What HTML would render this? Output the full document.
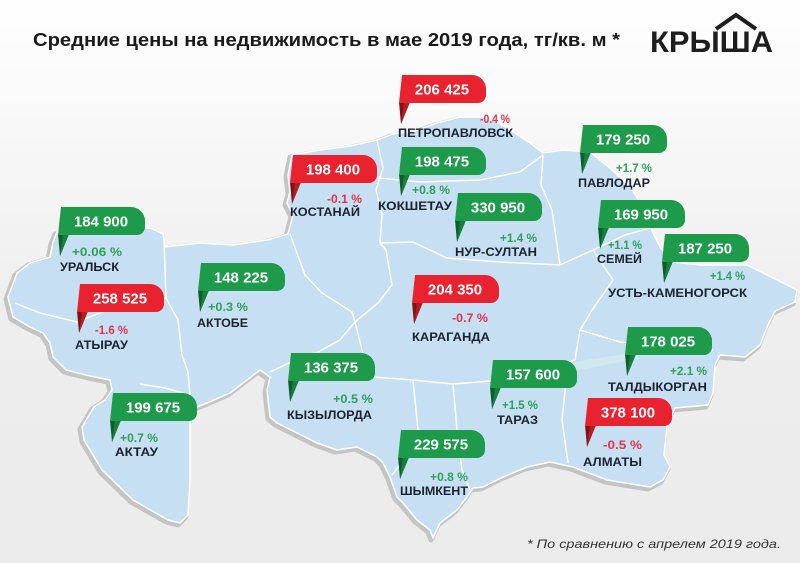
<!DOCTYPE html>
<html><head><meta charset="utf-8"><style>
html,body{margin:0;padding:0;background:#f3f3f3;}
svg{display:block;}
text{font-family:"Liberation Sans","DejaVu Sans",sans-serif;}
.pr{font-size:15px;font-weight:bold;fill:#fff;text-anchor:middle;}
.ct{font-size:12px;font-weight:bold;fill:#1c2230;}
.pg{font-size:11.5px;font-weight:bold;fill:#2ea05a;}
.pn{font-size:11.5px;font-weight:bold;fill:#e5334a;}
</style></head><body>
<svg width="800" height="563" viewBox="0 0 800 563" xmlns="http://www.w3.org/2000/svg">
<defs>
<linearGradient id="bg" x1="0" y1="0" x2="0" y2="1">
<stop offset="0" stop-color="#ffffff"/><stop offset="0.55" stop-color="#eeeeee"/><stop offset="1" stop-color="#ebebeb"/>
</linearGradient>
<g id="gl"><path d="M0,27 L11,27 L2,49 Z" fill="#0d5f2a"/><path d="M5,27 L11,27 L2,49 Z" fill="#17803d"/><path d="M3,0 H73 A14,14 0 0 1 87,14 V20 A8,8 0 0 1 79,28 H0 Z" fill="#1e9a4b"/></g>
<g id="rl"><path d="M0,27 L11,27 L2,49 Z" fill="#7d1515"/><path d="M5,27 L11,27 L2,49 Z" fill="#b31c22"/><path d="M3,0 H73 A14,14 0 0 1 87,14 V20 A8,8 0 0 1 79,28 H0 Z" fill="#e8222f"/></g>
</defs>
<rect width="800" height="563" fill="url(#bg)"/>

<!-- map -->
<g id="mapshape">
<polygon transform="translate(-2,2)" fill="#c4c4c4" stroke="#c4c4c4" stroke-width="5" stroke-linejoin="round" points="57,232 100,229 150,228 163,234 165,247 200,243 233,245 267,240 288,234 293,215 287,203 290,192 288,175 292,155 320,150 350,146 377,140 393,134 415,131 437,123 460,117 483,117 497,122 510,130 530,143 543,153 563,150 590,152 610,168 630,187 643,207 653,233 660,247 673,262 700,265 747,265 763,273 783,283 797,290 795,302 775,311 768,325 760,345 745,357 720,355 715,365 713,393 708,405 675,408 667,425 664,455 670,467 663,480 650,487 607,480 573,467 550,462 527,467 503,477 483,487 473,488 467,497 457,510 440,523 433,538 430,530 417,520 403,503 397,497 390,477 383,463 377,457 357,447 337,450 317,443 297,433 277,423 270,417 267,390 270,377 260,370 243,383 230,393 207,403 190,410 190,480 188,515 180,523 168,520 133,500 102,470 84,440 82,427 94,407 105,400 112,390 110,380 90,376 66,370 53,357 50,343 43,333 30,327 13,317 8,297 17,273 30,263 50,257 53,242"/>
<polygon fill="#c6dff3" stroke="#ffffff" stroke-width="1.5" stroke-linejoin="round" points="57,232 100,229 150,228 163,234 165,247 200,243 233,245 267,240 288,234 293,215 287,203 290,192 288,175 292,155 320,150 350,146 377,140 393,134 415,131 437,123 460,117 483,117 497,122 510,130 530,143 543,153 563,150 590,152 610,168 630,187 643,207 653,233 660,247 673,262 700,265 747,265 763,273 783,283 797,290 795,302 775,311 768,325 760,345 745,357 720,355 715,365 713,393 708,405 675,408 667,425 664,455 670,467 663,480 650,487 607,480 573,467 550,462 527,467 503,477 483,487 473,488 467,497 457,510 440,523 433,538 430,530 417,520 403,503 397,497 390,477 383,463 377,457 357,447 337,450 317,443 297,433 277,423 270,417 267,390 270,377 260,370 243,383 230,393 207,403 190,410 190,480 188,515 180,523 168,520 133,500 102,470 84,440 82,427 94,407 105,400 112,390 110,380 90,376 66,370 53,357 50,343 43,333 30,327 13,317 8,297 17,273 30,263 50,257 53,242"/>
<polygon fill="#d0e8ee" points="528,378 550,368 585,360 625,354 640,352 639,359 610,364 580,370 555,378 537,385"/>
<g fill="none" stroke="#ffffff" stroke-width="1.5" stroke-linejoin="round">
<path d="M15,303 L40,313 L77,322 L120,305 L166,298"/>
<path d="M164,240 L166,298 L178,320 L182,355 L188,372 L190,395"/>
<path d="M140,384 L165,388 L190,395"/>
<path d="M290,234 L305,275 L322,293 L352,312 L355,322"/>
<path d="M270,372 L295,360 L318,352 L340,340 L355,322"/>
<path d="M355,322 L378,303 L392,285 L386,250 L380,243"/>
<path d="M377,140 L383,168 L376,190 L382,215 L380,243"/>
<path d="M378,178 L420,182 L480,180 L520,172 L543,155"/>
<path d="M380,243 L413,242 L447,258 L500,262 L560,265"/>
<path d="M543,155 L541,185 L552,210 L560,265"/>
<path d="M560,265 L593,250 L613,280 L592,310 L580,330"/>
<path d="M593,250 L625,235 L650,228"/>
<path d="M580,330 L620,342 L660,345 L713,350"/>
<path d="M355,322 L362,350 L372,377 L413,380 L453,384 L490,381 L530,372 L575,360 L580,330"/>
<path d="M568,362 L562,420 L568,463"/>
<path d="M413,380 L418,430 L405,458 L392,475"/>
<path d="M453,384 L457,430 L462,470 L470,490"/>
</g>
</g>

<!-- title & logo -->
<text x="33" y="46" font-size="18" font-weight="bold" fill="#1a1a1a" textLength="587" lengthAdjust="spacingAndGlyphs">Средние цены на недвижимость в мае 2019 года, тг/кв. м *</text>
<text x="650" y="52" font-size="30" font-weight="bold" fill="#1e1e1e" textLength="123" lengthAdjust="spacingAndGlyphs">КРЫША</text>
<polyline points="716,29 736,15 756,29" fill="none" stroke="#1e1e1e" stroke-width="4" stroke-linejoin="miter"/>

<!-- labels -->
<use href="#rl" transform="translate(399,75)"/><text class="pr" x="442" y="94.5">206 425</text>
<text class="pn" x="480" y="123" textLength="30" lengthAdjust="spacingAndGlyphs">-0.4 %</text>
<text class="ct" x="398" y="137" textLength="115" lengthAdjust="spacingAndGlyphs">ПЕТРОПАВЛОВСК</text>

<use href="#rl" transform="translate(290,155)"/><text class="pr" x="333" y="174.5">198 400</text>
<text class="pn" x="327" y="203" textLength="35" lengthAdjust="spacingAndGlyphs">-0.1 %</text>
<text class="ct" x="290" y="216" textLength="70" lengthAdjust="spacingAndGlyphs">КОСТАНАЙ</text>

<use href="#gl" transform="translate(399,147)"/><text class="pr" x="442" y="166.5">198 475</text>
<text class="pg" x="412" y="194" textLength="38" lengthAdjust="spacingAndGlyphs">+0.8 %</text>
<text class="ct" x="378" y="210" textLength="74" lengthAdjust="spacingAndGlyphs">КОКШЕТАУ</text>

<use href="#gl" transform="translate(455,193)"/><text class="pr" x="498" y="212.5">330 950</text>
<text class="pg" x="500" y="242" textLength="37" lengthAdjust="spacingAndGlyphs">+1.4 %</text>
<text class="ct" x="455" y="256" textLength="82" lengthAdjust="spacingAndGlyphs">НУР-СУЛТАН</text>

<use href="#gl" transform="translate(580,125)"/><text class="pr" x="623" y="144.5">179 250</text>
<text class="pg" x="616" y="172" textLength="36" lengthAdjust="spacingAndGlyphs">+1.7 %</text>
<text class="ct" x="578" y="187" textLength="72" lengthAdjust="spacingAndGlyphs">ПАВЛОДАР</text>

<use href="#gl" transform="translate(598,200)"/><text class="pr" x="641" y="219.5">169 950</text>
<text class="pg" x="608" y="249" textLength="34" lengthAdjust="spacingAndGlyphs">+1.1 %</text>
<text class="ct" x="597" y="263" textLength="45" lengthAdjust="spacingAndGlyphs">СЕМЕЙ</text>

<use href="#gl" transform="translate(662,234)"/><text class="pr" x="705" y="253.5">187 250</text>
<text class="pg" x="710" y="280" textLength="35" lengthAdjust="spacingAndGlyphs">+1.4 %</text>
<text class="ct" x="608" y="297" textLength="139" lengthAdjust="spacingAndGlyphs">УСТЬ-КАМЕНОГОРСК</text>

<use href="#gl" transform="translate(58,207)"/><text class="pr" x="101" y="226.5">184 900</text>
<text class="pg" x="72" y="256" textLength="50" lengthAdjust="spacingAndGlyphs">+0.06 %</text>
<text class="ct" x="60" y="271" textLength="59" lengthAdjust="spacingAndGlyphs">УРАЛЬСК</text>

<use href="#rl" transform="translate(77,284)"/><text class="pr" x="120" y="303.5">258 525</text>
<text class="pn" x="95" y="334" textLength="33" lengthAdjust="spacingAndGlyphs">-1.6 %</text>
<text class="ct" x="75" y="349" textLength="53" lengthAdjust="spacingAndGlyphs">АТЫРАУ</text>

<use href="#gl" transform="translate(198,263)"/><text class="pr" x="241" y="282.5">148 225</text>
<text class="pg" x="208" y="311" textLength="40" lengthAdjust="spacingAndGlyphs">+0.3 %</text>
<text class="ct" x="197" y="327" textLength="51" lengthAdjust="spacingAndGlyphs">АКТОБЕ</text>

<use href="#rl" transform="translate(412,275)"/><text class="pr" x="455" y="294.5">204 350</text>
<text class="pn" x="452" y="322" textLength="36" lengthAdjust="spacingAndGlyphs">-0.7 %</text>
<text class="ct" x="412" y="341" textLength="78" lengthAdjust="spacingAndGlyphs">КАРАГАНДА</text>

<use href="#gl" transform="translate(625,327)"/><text class="pr" x="668" y="346.5">178 025</text>
<text class="pg" x="670" y="375" textLength="37" lengthAdjust="spacingAndGlyphs">+2.1 %</text>
<text class="ct" x="608" y="391" textLength="99" lengthAdjust="spacingAndGlyphs">ТАЛДЫКОРГАН</text>

<use href="#rl" transform="translate(585,398)"/><text class="pr" x="628" y="417.5">378 100</text>
<text class="pn" x="603" y="449" textLength="39" lengthAdjust="spacingAndGlyphs">-0.5 %</text>
<text class="ct" x="583" y="466" textLength="59" lengthAdjust="spacingAndGlyphs">АЛМАТЫ</text>

<use href="#gl" transform="translate(490,360)"/><text class="pr" x="533" y="379.5">157 600</text>
<text class="pg" x="502" y="409" textLength="36" lengthAdjust="spacingAndGlyphs">+1.5 %</text>
<text class="ct" x="497" y="424" textLength="41" lengthAdjust="spacingAndGlyphs">ТАРАЗ</text>

<use href="#gl" transform="translate(288,353)"/><text class="pr" x="331" y="372.5">136 375</text>
<text class="pg" x="333" y="403" textLength="40" lengthAdjust="spacingAndGlyphs">+0.5 %</text>
<text class="ct" x="287" y="419" textLength="85" lengthAdjust="spacingAndGlyphs">КЫЗЫЛОРДА</text>

<use href="#gl" transform="translate(398,430)"/><text class="pr" x="441" y="449.5">229 575</text>
<text class="pg" x="430" y="481" textLength="38" lengthAdjust="spacingAndGlyphs">+0.8 %</text>
<text class="ct" x="400" y="495" textLength="68" lengthAdjust="spacingAndGlyphs">ШЫМКЕНТ</text>

<use href="#gl" transform="translate(110,393)"/><text class="pr" x="153" y="412.5">199 675</text>
<text class="pg" x="120" y="442" textLength="38" lengthAdjust="spacingAndGlyphs">+0.7 %</text>
<text class="ct" x="115" y="456" textLength="43" lengthAdjust="spacingAndGlyphs">АКТАУ</text>

<text x="527" y="548" font-size="12" font-style="italic" fill="#333333" textLength="254" lengthAdjust="spacingAndGlyphs">* По сравнению с апрелем 2019 года.</text>
</svg>
</body></html>
